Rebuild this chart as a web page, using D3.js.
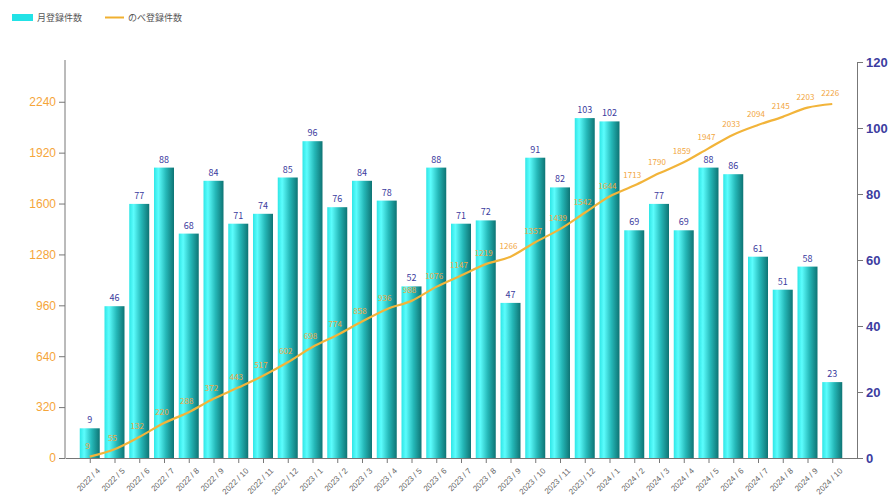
<!DOCTYPE html>
<html><head><meta charset="utf-8">
<script src="https://cdn.jsdelivr.net/npm/d3@7"></script>
<style>
html,body{margin:0;padding:0;background:#fff;}
svg{display:block;font-family:"Noto Sans CJK JP","Noto Sans",sans-serif;}
</style></head>
<body>
<svg id="chart" width="895" height="500"></svg>
<script>
const months = ["2022 / 4","2022 / 5","2022 / 6","2022 / 7","2022 / 8","2022 / 9","2022 / 10","2022 / 11","2022 / 12",
  "2023 / 1","2023 / 2","2023 / 3","2023 / 4","2023 / 5","2023 / 6","2023 / 7","2023 / 8","2023 / 9","2023 / 10","2023 / 11","2023 / 12",
  "2024 / 1","2024 / 2","2024 / 3","2024 / 4","2024 / 5","2024 / 6","2024 / 7","2024 / 8","2024 / 9","2024 / 10"];
const monthly = [9,46,77,88,68,84,71,74,85,96,76,84,78,52,88,71,72,47,91,82,103,102,69,77,69,88,86,61,51,58,23];
const cumulative = [9,55,132,220,288,372,443,517,602,698,774,858,936,988,1076,1147,1219,1266,1357,1439,1542,1644,1713,1790,1859,1947,2033,2094,2145,2203,2226];
const leftTicks = [0,320,640,960,1280,1600,1920,2240];
const rightTicks = [0,20,40,60,80,100,120];
const seriesNames = ["月登録件数","のべ登録件数"];

const svg = d3.select("#chart");
const x0 = 65, x1 = 857, yBase = 458, yTop = 62;

const x = d3.scalePoint().domain(months).range([x0, x1]).padding(1);
const yL = d3.scaleLinear().domain([0, 2490]).range([yBase, yTop]);
const yR = d3.scaleLinear().domain([0, 120]).range([yBase, yTop]);

const defs = svg.append("defs");
const grad = defs.append("linearGradient").attr("id","barGrad").attr("x1","0%").attr("x2","100%").attr("y1","0%").attr("y2","0%");
grad.append("stop").attr("offset","0%").attr("stop-color","#2fe6e6");
grad.append("stop").attr("offset","22%").attr("stop-color","#5cfdfd");
grad.append("stop").attr("offset","60%").attr("stop-color","#25b8b8");
grad.append("stop").attr("offset","100%").attr("stop-color","#0e7474");

const barW = 20;
// monthly bars
svg.append("g").selectAll("rect").data(monthly).join("rect")
  .attr("x", (d,i) => x(months[i]) - barW/2)
  .attr("y", d => yR(d))
  .attr("width", barW)
  .attr("height", d => yBase - yR(d))
  .attr("fill", "url(#barGrad)");

svg.append("g").selectAll("text").data(monthly).join("text")
  .attr("x", (d,i) => x(months[i]))
  .attr("y", d => yR(d) - 5)
  .attr("text-anchor","middle")
  .attr("font-size", 9)
  .attr("fill", "#3b3b9e")
  .text(d => d);

// cumulative line
const line = d3.line()
  .x((d,i) => x(months[i]))
  .y(d => yL(d))
  .curve(d3.curveMonotoneX);
svg.append("path").datum(cumulative)
  .attr("d", line)
  .attr("fill","none")
  .attr("stroke","#f2b43a")
  .attr("stroke-width",2.2);

svg.append("g").selectAll("text").data(cumulative).join("text")
  .attr("x", (d,i) => x(months[i]) - 2)
  .attr("y", d => yL(d) - 8)
  .attr("text-anchor","middle")
  .attr("font-size", 8)
  .attr("fill", "#f2a640")
  .text(d => d);

// axes
const axL = svg.append("g").attr("transform", `translate(${x0},0)`)
  .call(d3.axisLeft(yL).tickValues(leftTicks).tickFormat(d3.format("d")).tickSize(6).tickSizeOuter(0));
axL.select(".domain").attr("stroke","#777").attr("d", `M0,${yTop - 2}V${yBase}`);
axL.selectAll(".tick line").attr("stroke","#777");
axL.selectAll(".tick text").attr("fill","#f5a53a").attr("font-size",12).attr("font-family","Arial, Liberation Sans, sans-serif");

const axR = svg.append("g").attr("transform", `translate(${x1},0)`)
  .call(d3.axisRight(yR).tickValues(rightTicks).tickSize(6).tickSizeOuter(0));
axR.select(".domain").attr("stroke","#777");
axR.selectAll(".tick line").attr("stroke","#777");
axR.selectAll(".tick text").attr("fill","#3c3ca0").attr("font-size",13).attr("font-weight","bold").attr("font-family","Arial, Liberation Sans, sans-serif");

const axB = svg.append("g").attr("transform", `translate(0,${yBase})`)
  .call(d3.axisBottom(x).tickSize(5).tickSizeOuter(0));
axB.select(".domain").attr("stroke","#777");
axB.selectAll(".tick line").attr("stroke","#777");
axB.selectAll(".tick text")
  .attr("fill","#666").attr("font-size",8).attr("font-family","Arial, Liberation Sans, sans-serif")
  .attr("text-anchor","end")
  .attr("transform","translate(3,6) rotate(-45)")
  .attr("dy","0.3em");

// legend
const lg = svg.append("g");
lg.append("rect").attr("x",12).attr("y",14).attr("width",21).attr("height",7).attr("fill","#22e2e6");
lg.append("text").attr("x",37).attr("y",21).attr("font-size",9).attr("fill","#555").text(seriesNames[0]);
lg.append("line").attr("x1",105).attr("x2",124).attr("y1",17.5).attr("y2",17.5).attr("stroke","#f0b030").attr("stroke-width",2);
lg.append("text").attr("x",128).attr("y",21).attr("font-size",9).attr("fill","#555").text(seriesNames[1]);
</script>
</body></html>
